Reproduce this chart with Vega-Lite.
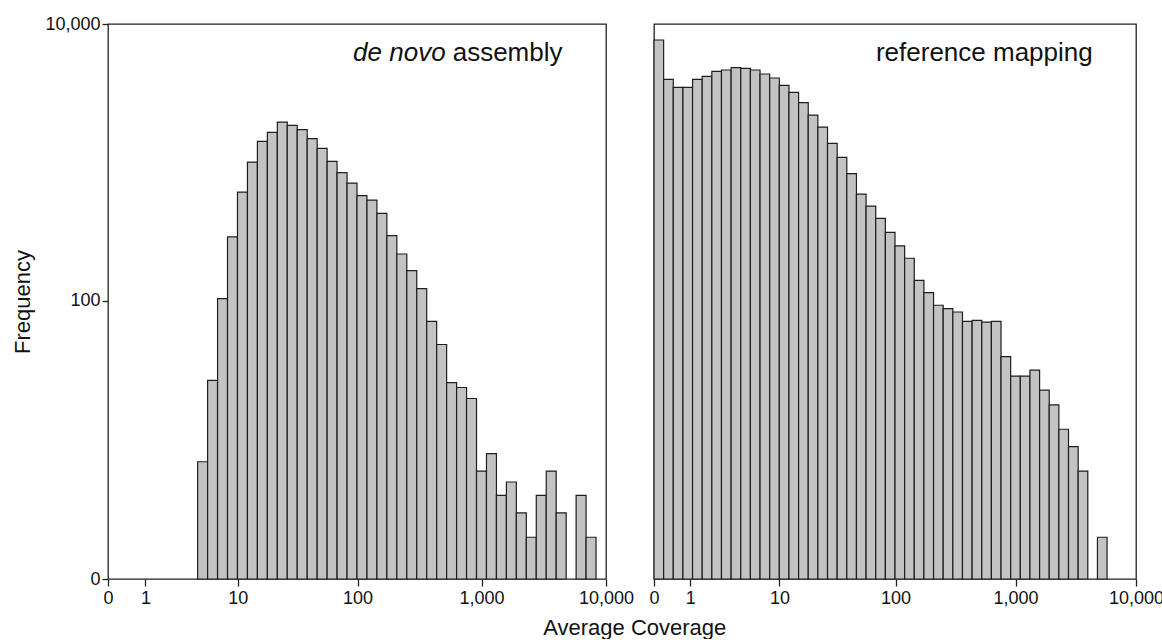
{
  "$schema": "https://vega.github.io/schema/vega-lite/v6.json",
  "padding": {"left": 11, "top": 14, "right": 0, "bottom": 0},
  "background": "white",
  "config": {
    "font": "Liberation Sans",
    "view": {"stroke": "#222222", "strokeWidth": 1.3},
    "axis": {
      "labelFont": "Liberation Sans",
      "titleFont": "Liberation Sans",
      "labelFontSize": 18,
      "titleFontSize": 22,
      "titleFontWeight": "normal",
      "labelColor": "#111111",
      "titleColor": "#111111",
      "tickColor": "#222222",
      "tickWidth": 1.3,
      "domain": false,
      "grid": false,
      "labelOverlap": false,
      "labelFlush": false
    }
  },
  "title": {
    "text": "Average Coverage",
    "orient": "bottom",
    "anchor": "middle",
    "frame": "bounds",
    "font": "Liberation Sans",
    "fontSize": 22,
    "fontWeight": "normal",
    "color": "#111111",
    "offset": 10,
    "dx": 47
  },
  "datasets": {
    "denovo": [
      {"x0": 4.2481, "x1": 5.3096, "n": 6},
      {"x0": 5.3096, "x1": 6.5858, "n": 26},
      {"x0": 6.5858, "x1": 8.1201, "n": 104},
      {"x0": 8.1201, "x1": 9.9648, "n": 291},
      {"x0": 9.9648, "x1": 12.1826, "n": 614},
      {"x0": 12.1826, "x1": 14.8489, "n": 1011},
      {"x0": 14.8489, "x1": 18.0546, "n": 1426},
      {"x0": 18.0546, "x1": 21.9087, "n": 1656},
      {"x0": 21.9087, "x1": 26.5423, "n": 1964},
      {"x0": 26.5423, "x1": 32.1131, "n": 1860},
      {"x0": 32.1131, "x1": 38.8107, "n": 1730},
      {"x0": 38.8107, "x1": 46.863, "n": 1490},
      {"x0": 46.863, "x1": 56.544, "n": 1270},
      {"x0": 56.544, "x1": 68.1831, "n": 1022},
      {"x0": 68.1831, "x1": 82.1764, "n": 847},
      {"x0": 82.1764, "x1": 99, "n": 713},
      {"x0": 99, "x1": 119.2264, "n": 578},
      {"x0": 119.2264, "x1": 143.544, "n": 537},
      {"x0": 143.544, "x1": 172.78, "n": 431},
      {"x0": 172.78, "x1": 207.93, "n": 297},
      {"x0": 207.93, "x1": 250.189, "n": 219},
      {"x0": 250.189, "x1": 300.995, "n": 166},
      {"x0": 300.995, "x1": 362.078, "n": 123},
      {"x0": 362.078, "x1": 435.516, "n": 71},
      {"x0": 435.516, "x1": 523.807, "n": 48},
      {"x0": 523.807, "x1": 629.957, "n": 25},
      {"x0": 629.957, "x1": 757.578, "n": 23},
      {"x0": 757.578, "x1": 911.011, "n": 19},
      {"x0": 911.011, "x1": 1095.48, "n": 5},
      {"x0": 1095.48, "x1": 1317.26, "n": 7},
      {"x0": 1317.26, "x1": 1583.89, "n": 3},
      {"x0": 1583.89, "x1": 1904.46, "n": 4},
      {"x0": 1904.46, "x1": 2289.87, "n": 2},
      {"x0": 2289.87, "x1": 2753.23, "n": 1},
      {"x0": 2753.23, "x1": 3310.31, "n": 3},
      {"x0": 3310.31, "x1": 3980.07, "n": 5},
      {"x0": 3980.07, "x1": 4785.3, "n": 2},
      {"x0": 5753.4, "x1": 6917.31, "n": 3},
      {"x0": 6917.31, "x1": 8316.64, "n": 1}
    ],
    "refmap": [
      {"x0": 0, "x1": 0.2023, "n": 7670},
      {"x0": 0.2023, "x1": 0.4454, "n": 3990},
      {"x0": 0.4454, "x1": 0.7378, "n": 3496},
      {"x0": 0.7378, "x1": 1.0893, "n": 3496},
      {"x0": 1.0893, "x1": 1.5119, "n": 3990},
      {"x0": 1.5119, "x1": 2.02, "n": 4195},
      {"x0": 2.02, "x1": 2.6308, "n": 4560},
      {"x0": 2.6308, "x1": 3.3652, "n": 4660},
      {"x0": 3.3652, "x1": 4.2481, "n": 4850},
      {"x0": 4.2481, "x1": 5.3096, "n": 4790},
      {"x0": 5.3096, "x1": 6.5858, "n": 4660},
      {"x0": 6.5858, "x1": 8.1201, "n": 4360},
      {"x0": 8.1201, "x1": 9.9648, "n": 4080},
      {"x0": 9.9648, "x1": 12.1826, "n": 3610},
      {"x0": 12.1826, "x1": 14.8489, "n": 3215},
      {"x0": 14.8489, "x1": 18.0546, "n": 2710},
      {"x0": 18.0546, "x1": 21.9087, "n": 2207},
      {"x0": 21.9087, "x1": 26.5423, "n": 1807},
      {"x0": 26.5423, "x1": 32.1131, "n": 1380},
      {"x0": 32.1131, "x1": 38.8107, "n": 1093},
      {"x0": 38.8107, "x1": 46.863, "n": 833},
      {"x0": 46.863, "x1": 56.544, "n": 594},
      {"x0": 56.544, "x1": 68.1831, "n": 486},
      {"x0": 68.1831, "x1": 82.1764, "n": 396},
      {"x0": 82.1764, "x1": 99, "n": 314},
      {"x0": 99, "x1": 119.2264, "n": 251},
      {"x0": 119.2264, "x1": 143.544, "n": 204},
      {"x0": 143.544, "x1": 172.78, "n": 141},
      {"x0": 172.78, "x1": 207.93, "n": 115},
      {"x0": 207.93, "x1": 250.189, "n": 93},
      {"x0": 250.189, "x1": 300.995, "n": 88},
      {"x0": 300.995, "x1": 362.078, "n": 83},
      {"x0": 362.078, "x1": 435.516, "n": 71},
      {"x0": 435.516, "x1": 523.807, "n": 72},
      {"x0": 523.807, "x1": 629.957, "n": 70},
      {"x0": 629.957, "x1": 757.578, "n": 71},
      {"x0": 757.578, "x1": 911.011, "n": 39},
      {"x0": 911.011, "x1": 1095.48, "n": 28},
      {"x0": 1095.48, "x1": 1317.26, "n": 28},
      {"x0": 1317.26, "x1": 1583.89, "n": 31},
      {"x0": 1583.89, "x1": 1904.46, "n": 22},
      {"x0": 1904.46, "x1": 2289.87, "n": 17},
      {"x0": 2289.87, "x1": 2753.23, "n": 11},
      {"x0": 2753.23, "x1": 3310.31, "n": 8},
      {"x0": 3310.31, "x1": 3980.07, "n": 5},
      {"x0": 4785.3, "x1": 5753.4, "n": 1}
    ],
    "denovoItalic": [
      {"x": 514, "y": 5400, "t": "de novo"}
    ],
    "denovoPlain": [
      {"x": 586, "y": 5400, "t": "assembly"}
    ],
    "refLabel": [
      {"x": 4375, "y": 5400, "t": "reference mapping"}
    ]
  },
  "hconcat": [
    {
      "width": 498,
      "height": 555,
      "layer": [
        {
          "data": {"name": "denovo"},
          "mark": {"type": "bar", "fill": "#c3c3c3", "stroke": "#1e1e1e", "strokeWidth": 1.2},
          "encoding": {
            "x": {"field": "x0", "type": "quantitative",
              "scale": {"type": "symlog", "constant": 1, "domain": [0, 10000], "nice": false},
              "axis": {"values": [0, 1, 10, 100, 1000, 10000], "format": ",d", "title": null, "tickSize": 7, "labelPadding": 3}},
            "x2": {"field": "x1"},
            "y": {"field": "n", "type": "quantitative", "stack": null,
              "scale": {"type": "symlog", "constant": 1, "domain": [0, 10000], "nice": false},
              "axis": {"values": [0, 100, 10000], "format": ",d", "title": "Frequency", "tickSize": 6, "labelPadding": 2, "titlePadding": 10}},
            "y2": {"datum": 0}
          }
        },
        {
          "data": {"name": "denovoItalic"},
          "mark": {"type": "text", "fontSize": 26, "font": "Liberation Sans", "fontStyle": "italic", "baseline": "alphabetic", "align": "right", "color": "#111111"},
          "encoding": {
            "x": {"field": "x", "type": "quantitative"},
            "y": {"field": "y", "type": "quantitative"},
            "text": {"field": "t"}
          }
        },
        {
          "data": {"name": "denovoPlain"},
          "mark": {"type": "text", "fontSize": 26, "font": "Liberation Sans", "baseline": "alphabetic", "align": "left", "color": "#111111"},
          "encoding": {
            "x": {"field": "x", "type": "quantitative"},
            "y": {"field": "y", "type": "quantitative"},
            "text": {"field": "t"}
          }
        }
      ]
    },
    {
      "width": 482,
      "height": 555,
      "layer": [
        {
          "data": {"name": "refmap"},
          "mark": {"type": "bar", "fill": "#c3c3c3", "stroke": "#1e1e1e", "strokeWidth": 1.2},
          "encoding": {
            "x": {"field": "x0", "type": "quantitative",
              "scale": {"type": "symlog", "constant": 1, "domain": [0, 10000], "nice": false},
              "axis": {"values": [0, 1, 10, 100, 1000, 10000], "format": ",d", "title": null, "tickSize": 7, "labelPadding": 3}},
            "x2": {"field": "x1"},
            "y": {"field": "n", "type": "quantitative", "stack": null,
              "scale": {"type": "symlog", "constant": 1, "domain": [0, 10000], "nice": false},
              "axis": null},
            "y2": {"datum": 0}
          }
        },
        {
          "data": {"name": "refLabel"},
          "mark": {"type": "text", "fontSize": 26, "font": "Liberation Sans", "baseline": "alphabetic", "align": "right", "color": "#111111"},
          "encoding": {
            "x": {"field": "x", "type": "quantitative"},
            "y": {"field": "y", "type": "quantitative"},
            "text": {"field": "t"}
          }
        }
      ]
    }
  ],
  "spacing": 48,
  "bounds": "flush"
}
